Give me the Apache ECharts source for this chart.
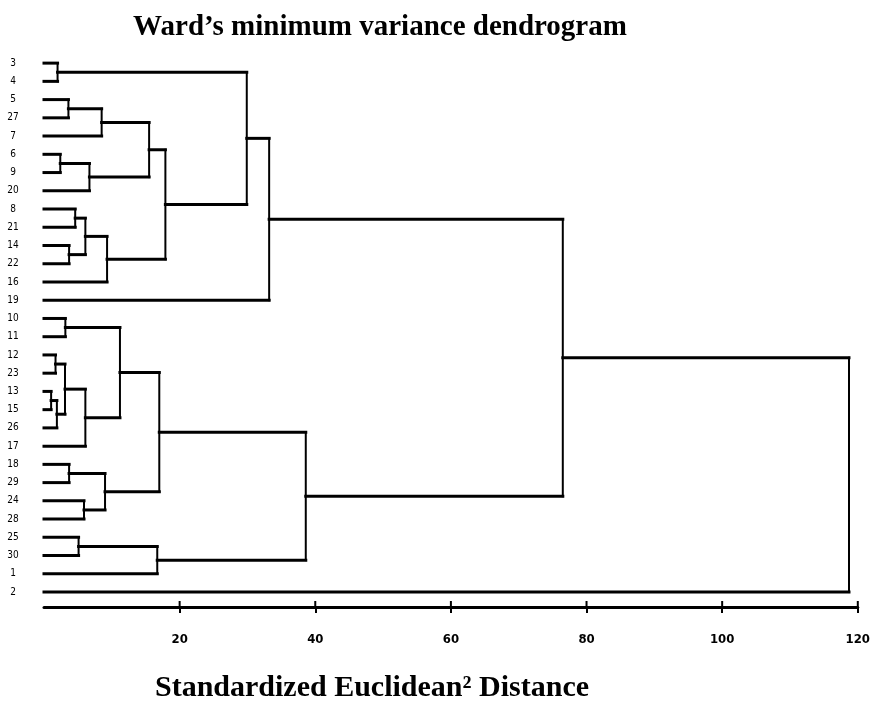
<!DOCTYPE html>
<html>
<head>
<meta charset="utf-8">
<style>html,body{margin:0;padding:0;background:#fff}#c{width:873px;height:701px}</style>
<script src="https://cdn.jsdelivr.net/npm/echarts@6/dist/echarts.min.js"></script>
</head>
<body>
<div id="c"></div>
<script>
// Leaves, top to bottom
const leaves = ['3','4','5','27','7','6','9','20','8','21','14','22','16','19','10','11','12','23','13','15','26','17','18','29','24','28','25','30','1','2'];
// Merges: child A, child B (leaf labels or cluster ids "cN"), merge height
const mergeA = ['3','5','c1','6','c3','c2','8','14','c6','c8','c5','c0','c11','10','12','13','c15','c14','c17','c13','18','24','c20','c19','25','c24','c23','c12','c27'];
const mergeB = ['4','27','7','9','20','c4','21','22','c7','16','c9','c10','19','11','23','15','26','c16','17','c18','29','28','c21','c22','30','1','c25','c26','2'];
const mergeHeight = [2.0,3.6,8.5,2.4,6.7,15.5,4.6,3.7,6.1,9.3,17.9,29.9,33.2,3.15,1.7,1.05,1.9,3.1,6.1,11.2,3.7,5.9,9.0,17.0,5.1,16.7,38.6,76.5,118.7];
const xTicks = [20,40,60,80,100,120];

// Build link table (positions derived from the tree, mapped through axes)
const pos = {};
leaves.forEach((l,i)=>{pos[l]={y:i,h:0};});
const links = [];
mergeA.forEach((a,k)=>{
  const b = mergeB[k], h = mergeHeight[k];
  const A = pos[a], B = pos[b];
  links.push([A.h, A.y, B.h, B.y, h]);
  pos['c'+k] = {y:(A.y+B.y)/2, h:h};
});

const Y_MIN = -0.5, Y_MAX = 29.82;
const chart = echarts.init(document.getElementById('c'));
const serif = "'Liberation Serif','Times New Roman',serif";
const narrow = "'DejaVu Sans Condensed','Liberation Sans Narrow',sans-serif";
chart.setOption({
  animation:false,
  backgroundColor:'#fff',
  title:{
    text:'Ward\u2019s minimum variance dendrogram',
    left:375, top:8, textAlign:'center',
    textStyle:{fontFamily:serif,fontWeight:'bold',fontSize:29,color:'#000'}
  },
  grid:{left:44,right:10,top:54,bottom:94,containLabel:false},
  xAxis:{
    type:'value',min:0,max:120,interval:20,
    axisLine:{show:true,onZero:false,lineStyle:{color:'#000',width:3}},
    axisTick:{show:true,length:6,customValues:xTicks,lineStyle:{color:'#000',width:2}},
    axisLabel:{show:true,customValues:xTicks,margin:26,fontFamily:narrow,fontWeight:'bold',fontSize:13,color:'#000'},
    splitLine:{show:false}
  },
  yAxis:{
    type:'value',inverse:true,min:Y_MIN,max:Y_MAX,
    axisLine:{show:false},axisTick:{show:false},splitLine:{show:false},
    axisLabel:{show:true,customValues:leaves.map((l,i)=>i),formatter:v=>leaves[Math.round(v)],
      align:'center',margin:31,fontFamily:narrow,fontSize:10,color:'#000'}
  },
  graphic:[{
    type:'text',x:372,y:688,
    style:{text:'Standardized Euclidean\u00B2 Distance',textAlign:'center',textVerticalAlign:'middle',
      font:"bold 30px 'Liberation Serif','Times New Roman',serif",fill:'#000'}
  }],
  series:[{
    type:'custom',
    clip:false,
    data:links,
    renderItem:function(params,api){
      const hA=api.value(0), yA=api.value(1), hB=api.value(2), yB=api.value(3), h=api.value(4);
      const pA0=api.coord([hA,yA]), pA1=api.coord([h,yA]);
      const pB0=api.coord([hB,yB]), pB1=api.coord([h,yB]);
      const hs={stroke:'#000',lineWidth:3,lineCap:'square'};
      const vs={stroke:'#000',lineWidth:2,lineCap:'square'};
      return {type:'group',children:[
        {type:'line',shape:{x1:pA0[0],y1:pA0[1],x2:pA1[0],y2:pA1[1]},style:hs},
        {type:'line',shape:{x1:pB0[0],y1:pB0[1],x2:pB1[0],y2:pB1[1]},style:hs},
        {type:'line',shape:{x1:pA1[0],y1:pA1[1],x2:pB1[0],y2:pB1[1]},style:vs}
      ]};
    }
  },{
    // upper half of the crossing tick marks on the distance axis
    type:'custom',
    clip:false,
    data:xTicks,
    renderItem:function(params,api){
      const p=api.coord([api.value(0),Y_MAX]);
      return {type:'line',shape:{x1:p[0],y1:p[1]-6,x2:p[0],y2:p[1]},style:{stroke:'#000',lineWidth:2}};
    }
  }]
});
</script>
</body>
</html>
